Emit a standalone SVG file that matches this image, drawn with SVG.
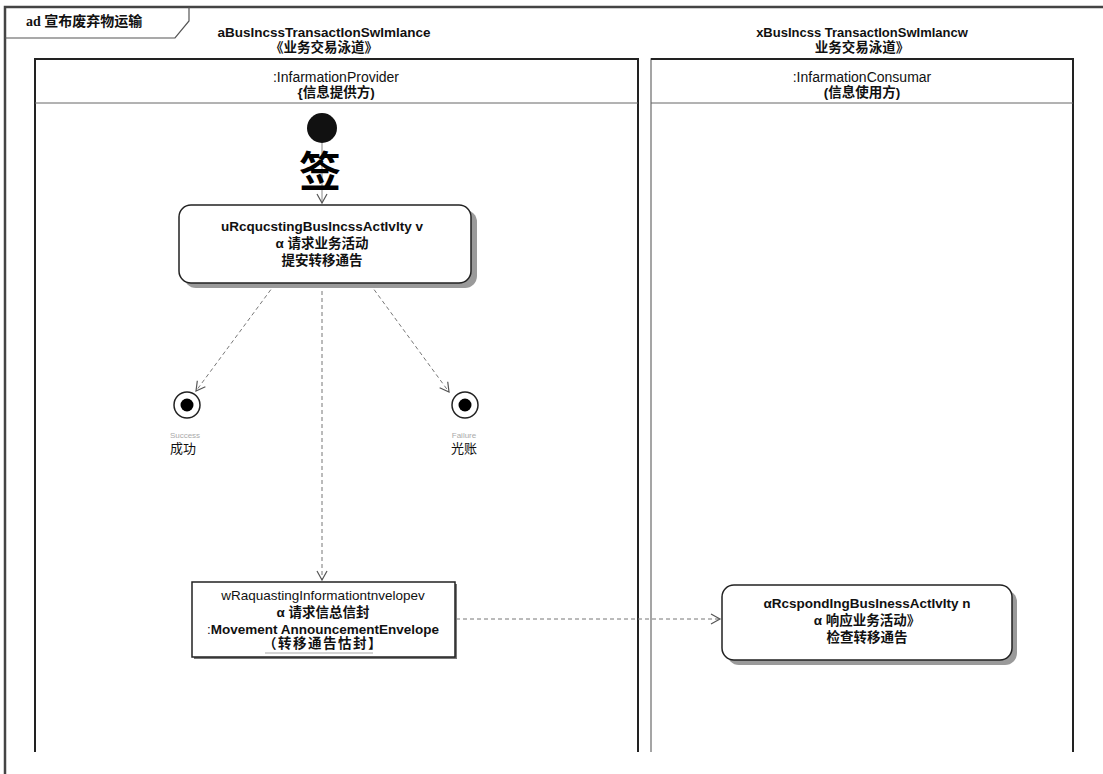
<svg xmlns="http://www.w3.org/2000/svg" width="1103" height="774" viewBox="0 0 1103 774">
<style>
text{font-family:"Liberation Sans","Noto Sans CJK SC",sans-serif;fill:#111;text-anchor:middle}
.b{font-weight:bold}
.cn{font-weight:bold;font-size:13.5px}
.en{font-size:14px}
.lane{fill:none;stroke:#222;stroke-width:2}
.hdr{stroke:#666;stroke-width:1}
.act{fill:#fff;stroke:#222;stroke-width:1.5}
.shadow{fill:#9a9a9a}
.flow{fill:none;stroke:#777;stroke-width:1;stroke-dasharray:4 3}
</style>
<defs>
<marker id="arr" markerWidth="12" markerHeight="12" refX="10" refY="6" orient="auto" markerUnits="userSpaceOnUse">
<path d="M1,1 L10,6 L1,11" fill="none" stroke="#555" stroke-width="1.2"/>
</marker>
</defs>
<rect width="1103" height="774" fill="#fff"/>
<g id="frame">
<path d="M5,774 L5,7 L1103,7" fill="none" stroke="#444" stroke-width="2.5"/>
<path d="M5,38 L175,38 L189,21 L189,7" fill="none" stroke="#555" stroke-width="1.2"/>
<text x="26" y="26" style="text-anchor:start;font-family:'Liberation Serif','Noto Sans CJK SC',serif;font-size:14px;font-weight:bold">ad 宣布废弃物运输</text>
</g>
<g id="partition-left">
<text x="324" y="37" class="b" font-size="13.5">aBusIncssTransactIonSwImlance</text>
<text x="324" y="52" class="cn">《业务交易泳道》</text>
<path class="lane" d="M35,752 L35,59 L638,59 L638,752"/>
<line class="hdr" x1="35" y1="103" x2="638" y2="103"/>
<text x="336" y="82" class="en">:InfarmationProvider</text>
<text x="336" y="97" class="cn">{信息提供方)</text>
</g>
<g id="partition-right">
<text x="862" y="37" class="b" font-size="13">xBusIncss TransactIonSwImlancw</text>
<text x="862" y="52" class="cn">业务交易泳道》</text>
<path d="M651,752 L651,59 L1073,59 L1073,752" fill="none" stroke="#888" stroke-width="1.5"/>
<path d="M651,59 L1073,59 L1073,752" fill="none" stroke="#222" stroke-width="2"/>
<line class="hdr" x1="651" y1="103" x2="1073" y2="103"/>
<text x="862" y="82" class="en">:InfarmationConsumar</text>
<text x="862" y="97" class="cn">(信息使用方)</text>
</g>
<g id="connectors">
<line class="flow" x1="322" y1="143" x2="322" y2="203" marker-end="url(#arr)" style="stroke-dasharray:none;stroke:#888"/>
<line class="flow" x1="275" y1="284" x2="196" y2="391" marker-end="url(#arr)"/>
<line class="flow" x1="370" y1="284" x2="449" y2="392" marker-end="url(#arr)"/>
<line class="flow" x1="322" y1="284" x2="322" y2="580" marker-end="url(#arr)"/>
<line class="flow" x1="456" y1="619" x2="720" y2="619" marker-end="url(#arr)"/>
</g>
<g id="initial">
<circle cx="322" cy="128" r="15" fill="#111"/>
<text x="320" y="187" style="font-family:'Noto Sans CJK SC',sans-serif;font-size:42px;font-weight:bold;fill:#000">签</text>
</g>
<g id="action-request">
<rect class="shadow" x="184" y="210" width="293" height="78" rx="12"/>
<rect class="act" x="179" y="205" width="292" height="78" rx="12"/>
<text x="322" y="231" class="b" font-size="13.5">uRcqucstingBusIncssActIvIty v</text>
<text x="322" y="248" class="cn">α 请求业务活动</text>
<text x="322" y="265" class="cn">提安转移通告</text>
</g>
<g id="final-success">
<circle cx="187" cy="405" r="13" fill="#fff" stroke="#222" stroke-width="1.5"/>
<circle cx="187" cy="405" r="6.5" fill="#000"/>
<text x="185" y="438" font-size="8" style="fill:#aaa">Success</text>
<text x="183" y="453" font-size="13">成功</text>
</g>
<g id="final-failure">
<circle cx="465" cy="405" r="13" fill="#fff" stroke="#222" stroke-width="1.5"/>
<circle cx="465" cy="405" r="6.5" fill="#000"/>
<text x="464" y="438" font-size="8" style="fill:#aaa">Failure</text>
<text x="464" y="453" font-size="13">光账</text>
</g>
<g id="object-envelope">
<rect x="194" y="584" width="263" height="75" fill="#777"/>
<rect x="192" y="582" width="263" height="75" fill="#fff" stroke="#222" stroke-width="1.5"/>
<text x="323" y="600" font-size="13.5">wRaquastingInformationtnvelopev</text>
<text x="323" y="617" class="cn">α 请求信总信封</text>
<text x="323" y="634" class="b" font-size="13.5"><tspan font-weight="normal">:</tspan>Movement AnnouncementEnvelope</text>
<text x="323" y="648" class="cn" font-size="12" letter-spacing="1.5">（转移通告怙封】</text>
<line x1="265" y1="653" x2="373" y2="653" stroke="#aaa" stroke-width="1.2"/>
</g>
<g id="action-respond">
<rect class="shadow" x="727" y="590" width="290" height="75" rx="12"/>
<rect class="act" x="722" y="585" width="290" height="75" rx="12"/>
<text x="867" y="608" class="b" font-size="13.5">αRcspondIngBusInessActIvIty n</text>
<text x="867" y="625" class="cn" font-size="11">α 响应业务活动》</text>
<text x="867" y="642" class="cn">检查转移通告</text>
</g>
</svg>
